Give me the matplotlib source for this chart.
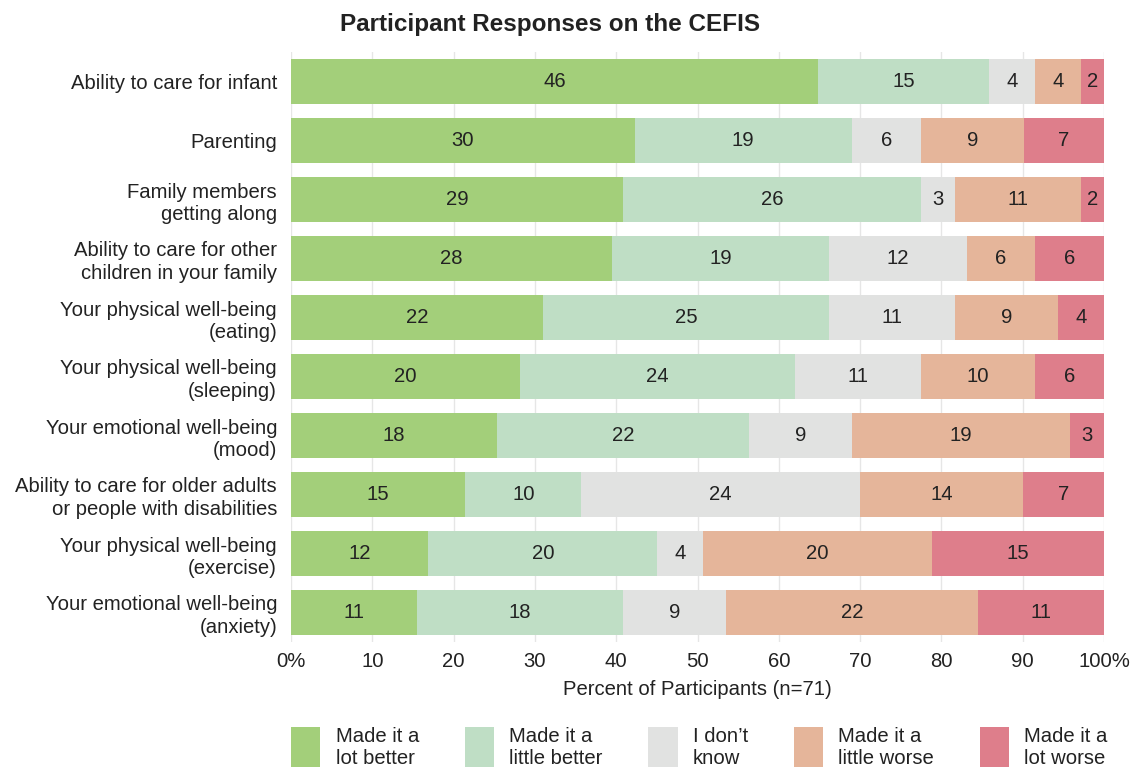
import numpy as np
import matplotlib.pyplot as plt
from matplotlib.patches import Patch

plt.rcParams['font.family'] = ['Liberation Sans', 'DejaVu Sans']

items = [
    "Ability to care for infant",
    "Parenting",
    "Family members\ngetting along",
    "Ability to care for other\nchildren in your family",
    "Your physical well-being\n(eating)",
    "Your physical well-being\n(sleeping)",
    "Your emotional well-being\n(mood)",
    "Ability to care for older adults\nor people with disabilities",
    "Your physical well-being\n(exercise)",
    "Your emotional well-being\n(anxiety)",
]
lot_better = [46, 30, 29, 28, 22, 20, 18, 15, 12, 11]
little_better = [15, 19, 26, 19, 25, 24, 22, 10, 20, 18]
dont_know = [4, 6, 3, 12, 11, 11, 9, 24, 4, 9]
little_worse = [4, 9, 11, 6, 9, 10, 19, 14, 20, 22]
lot_worse = [2, 7, 2, 6, 4, 6, 3, 7, 15, 11]
legend_labels = ["Made it a\nlot better", "Made it a\nlittle better", "I don\u2019t\nknow",
                 "Made it a\nlittle worse", "Made it a\nlot worse"]
colors = ["#a3cf7a", "#bfdec5", "#e1e2e1", "#e5b59a", "#de7e8b"]

FS = 14.6


def main():
    series = np.array([lot_better, little_better, dont_know, little_worse, lot_worse], dtype=float)
    row_totals = series.sum(axis=0)

    fig = plt.figure(figsize=(11.31, 7.67), dpi=100)
    ax = fig.add_axes([291 / 1131, 1 - 642 / 767, (1104 - 291) / 1131, (642 - 52) / 767])

    y = np.arange(len(items))
    left = np.zeros(len(items))
    for vals, color in zip(series, colors):
        pct = vals / row_totals * 100
        ax.barh(y, pct, left=left, height=0.75, color=color, zorder=2)
        for yi, (l, p, v) in enumerate(zip(left, pct, vals)):
            ax.text(l + p / 2, yi, str(int(v)), ha="center", va="center", fontsize=FS,
                    color="#222222", zorder=3)
        left += pct

    ax.set_xlim(0, 100)
    ax.set_ylim(len(items) - 0.5, -0.5)
    ax.set_yticks(y)
    ax.set_yticklabels(items, fontsize=FS, linespacing=1.25, color="#222222")
    ax.set_xticks(np.arange(0, 101, 10))
    ax.set_xticklabels(["0%"] + [str(t) for t in range(10, 100, 10)] + ["100%"], fontsize=FS,
                       color="#222222")
    ax.tick_params(axis="y", length=0, pad=10)
    ax.tick_params(axis="x", length=0, pad=7)
    ax.grid(axis="x", color="#e6e6e6", linewidth=1, zorder=0)
    for s in ax.spines.values():
        s.set_visible(False)
    ax.set_xlabel("Percent of Participants (n=71)", fontsize=FS, labelpad=7, color="#222222")

    fig.text(550 / 1131, 1 - 24 / 767, "Participant Responses on the CEFIS", ha="center", va="center",
             fontsize=17.5, fontweight="bold", color="#222222")

    handles = [Patch(facecolor=c, edgecolor="none") for c in colors]
    fig.legend(handles, legend_labels, loc="upper left", bbox_to_anchor=(291 / 1131, 1 - 727 / 767),
               ncol=5, frameon=False, fontsize=FS, handlelength=1.45, handleheight=3.0,
               handletextpad=0.75, columnspacing=2.25, labelspacing=0.2, borderpad=0,
               borderaxespad=0, labelcolor="#222222")

    fig.savefig("out.png", dpi=100)
    plt.close(fig)


if __name__ == "__main__":
    main()
